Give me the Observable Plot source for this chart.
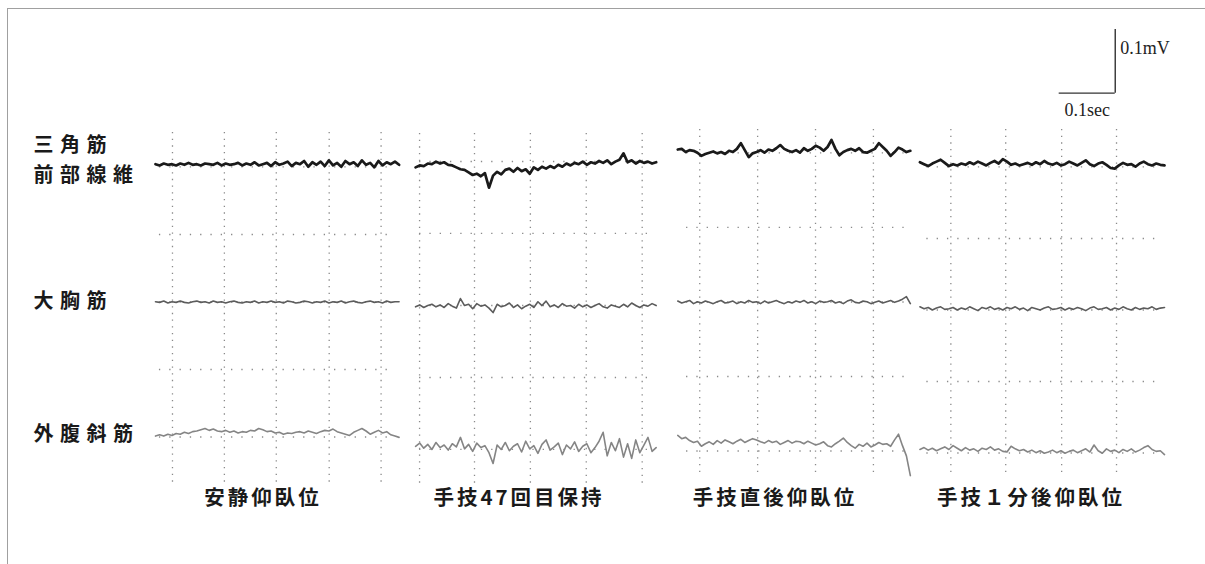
<!DOCTYPE html>
<html><head><meta charset="utf-8">
<script src="https://cdn.jsdelivr.net/npm/d3@7"></script>
<script src="https://cdn.jsdelivr.net/npm/@observablehq/plot@0.6"></script>
<style>
html,body{margin:0;padding:0;background:#fff;}
#wrap{position:relative;width:1205px;height:564px;overflow:hidden;background:#fff;}
#border{position:absolute;left:7px;top:8px;width:1198px;height:556px;border-top:1.5px solid #a0a0a0;border-left:1.5px solid #a0a0a0;pointer-events:none;}
g[aria-label="y-axis tick label"] text{letter-spacing:6.5px;}
g[aria-label="fx-axis tick label"] text{letter-spacing:3px;}
</style></head>
<body><div id="wrap"><div id="chart"></div><div id="border"></div></div>
<script>
// Conditions (panels) and muscles (channels)
const conditions = ["安静仰臥位", "手技47回目保持", "手技直後仰臥位", "手技１分後仰臥位"];
const muscles = ["三角筋\n前部線維", "大胸筋", "外腹斜筋"];
const muscleOffset = [0, -0.21, -0.42];          // mV, channel baselines

// Recording time span of each panel (s)
const traceStart = [0, 0.0073, 0.0183, -0.0064];
const traceEnd = [0.4346, 0.4365, 0.4333, 0.43];

// EMG traces in µV relative to the channel baseline
const deltoid_rest = [3,1,4,2,3,1,4,2,5,2,3,1,4,3,2,5,1,4,2,3,5,1,4,2,6,1,3,5,0,6,2,4,7,0,5,3,8,-1,6,2,7,0,9,1,5,-1,8,3,6,0,9,2,5,-2,8,1,6,3,7,2];
const deltoid_47 = [-2,1,0,4,3,7,4,6,2,1,-2,-5,-6,-10,-14,-12,-16,-11,-34,-15,-9,-13,-6,-4,-9,-3,-8,-5,-12,-2,-6,-1,-4,0,-3,2,-1,4,1,5,3,7,2,6,4,8,5,9,3,7,10,20,6,9,4,8,5,7,4,6];
const deltoid_post = [26,27,22,25,24,21,16,19,21,23,20,22,19,24,22,27,36,25,14,20,22,25,21,26,24,28,33,27,24,22,25,21,28,24,27,32,29,24,30,41,27,17,22,25,27,24,28,22,21,24,27,36,30,24,16,22,29,26,22,24];
const deltoid_1min = [6,3,0,4,7,10,5,0,3,1,4,2,6,3,7,4,1,5,8,4,11,7,2,4,1,3,5,2,6,3,8,4,2,5,1,3,7,4,1,5,9,3,0,4,6,2,-3,-4,1,5,2,3,-1,4,7,3,1,4,2,1];

const pector_rest = [-3,-4,-2,-5,-3,-4,-2,-4,-5,-3,-2,-4,-3,-5,-2,-4,-3,-5,-3,-2,-4,-5,-3,-4,-2,-5,-3,-4,-2,-4,-3,-5,-2,-3,-5,-4,-2,-3,-5,-3,-4,-2,-5,-3,-4,-2,-5,-3,-2,-4,-5,-3,-2,-4,-3,-5,-2,-4,-3,-3];
const pector_47 = [-11,-8,-12,-9,-7,-11,-8,-12,-6,-10,-13,2,-9,-7,-14,-6,-10,-8,-13,-20,-7,-11,-9,-5,-12,-8,-14,-10,-7,-12,-3,-9,-2,-11,-8,-12,-6,-10,-9,-13,-7,-11,-8,-12,-9,-6,-11,-13,-8,-10,-12,-7,-11,-5,-9,-12,-8,-10,-6,-9];
const pector_post = [-2,-5,-3,-1,-6,-3,-5,-2,-4,-6,-3,-1,-5,-4,-2,-6,-3,-5,-1,-4,-3,-6,-2,-5,-3,-1,-4,-6,-3,-5,-2,-4,-1,-5,-3,-6,-2,-4,-3,-1,-5,-3,-6,-2,0,-4,-5,-2,-3,-6,-4,-2,-5,-3,-1,-4,-2,1,5,-6];
const pector_1min = [-11,-14,-12,-16,-13,-11,-15,-14,-12,-16,-13,-15,-11,-14,-17,-12,-14,-11,-15,-13,-16,-12,-14,-11,-15,-13,-17,-12,-14,-16,-13,-11,-15,-14,-12,-16,-13,-15,-12,-14,-17,-13,-11,-15,-14,-12,-16,-13,-15,-11,-14,-16,-12,-15,-13,-14,-11,-15,-13,-12];

const oblique_rest = [-4,-2,-4,-1,-3,0,-1,2,0,3,4,6,8,5,7,4,3,5,2,4,1,3,2,5,4,8,6,3,4,1,2,-1,1,0,2,3,1,4,2,0,3,5,4,7,3,1,-1,-3,2,5,8,4,-1,2,5,1,3,-2,-4,-6];
const oblique_47 = [-20,-15,-23,-17,-25,-14,-22,-18,-26,-16,-21,-6,-24,-17,-28,-15,-22,-19,-30,-47,-18,-25,-14,-27,-20,-16,-29,-12,-24,-19,-31,-17,-10,-26,-21,-15,-33,-18,-24,-13,-28,-20,-16,-30,-22,-12,2,-35,-14,-27,-8,-37,-16,-39,-10,-30,-18,-6,-28,-22];
const oblique_post = [-3,-8,-6,-11,-14,-12,-20,-16,-13,-17,-11,-15,-10,-13,-16,-12,-9,-14,-11,-8,-10,-13,-15,-11,-14,-12,-17,-14,-11,-15,-12,-13,-16,-12,-15,-18,-16,-13,-19,-21,-16,-12,-7,-14,-19,-23,-17,-20,-15,-21,-18,-14,-17,-16,-20,-10,-1,-19,-35,-66];
const oblique_1min = [-25,-22,-26,-23,-27,-24,-21,-25,-19,-23,-27,-22,-26,-24,-28,-23,-25,-21,-26,-24,-28,-29,-20,-24,-27,-25,-29,-26,-30,-27,-31,-29,-26,-30,-27,-31,-28,-26,-30,-27,-24,-29,-18,-27,-31,-24,-28,-26,-30,-25,-28,-24,-29,-26,-22,-19,-25,-28,-27,-33];

// Recorder grid of each panel: vertical grid times (s), horizontal grid levels (mV)
const vGridTimes = [[0.0303,0.1229,0.2155,0.3099,0.4025],[0.0144,0.1124,0.2121,0.3118,0.4116],[0.0575,0.1608,0.2641,0.3674],[0.0488,0.1467,0.2465,0.3444]];
const vGridSpan = [[0.0528,-0.4969],[0.0512,-0.4984],[0.0575,-0.489],[0.0575,-0.4827]];
const hGridLevels = [[-0.0014,-0.1074,-0.2134,-0.3194,-0.4254],[0.0072,-0.1058,-0.2189,-0.332,-0.445],[0.0206,-0.0964,-0.2134,-0.3304,-0.4474],[-0.0014,-0.1137,-0.226,-0.3383,-0.4505]];
const hGridSpan = [[0.007,0.422],[0.0144,0.432],[0.034,0.428],[0.006,0.421]];

// Calibration bar: 0.1 sec × 0.1 mV
const calib = {cond: conditions[3], t: 0.3421, mV: 0.1145, dt: 0.1, dv: 0.1};

const traceSets = [
  [deltoid_rest, deltoid_47, deltoid_post, deltoid_1min],
  [pector_rest, pector_47, pector_post, pector_1min],
  [oblique_rest, oblique_47, oblique_post, oblique_1min]
];
const traceColor = ["#1a1a1a", "#5c5c5c", "#858585"];
const traceWidth = [2.7, 1.6, 1.6];

const rows = [];
traceSets.forEach((set, m) => set.forEach((vals, p) => {
  const t0 = traceStart[p], t1 = traceEnd[p], n = vals.length;
  vals.forEach((v, i) => rows.push({cond: conditions[p], muscle: muscles[m], t: t0 + (t1 - t0) * i / (n - 1), mV: muscleOffset[m] + v / 1000}));
}));

const vRows = [];
vGridTimes.forEach((ts, p) => ts.forEach(t => vRows.push({cond: conditions[p], t, top: vGridSpan[p][0], bottom: vGridSpan[p][1]})));
const hRows = [];
hGridLevels.forEach((ls, p) => ls.forEach(v => hRows.push({cond: conditions[p], v, x1: hGridSpan[p][0], x2: hGridSpan[p][1]})));

const calibRows = [calib];
const labelStyle = {tickSize: 0, tickFormat: d => muscles[muscleOffset.indexOf(d)], textAnchor: "start", dx: -113, fontSize: 20, fontWeight: "bold", lineHeight: 1.55, label: null};

const chart = Plot.plot({
  width: 1205, height: 564,
  marginLeft: 153, marginRight: 40, marginTop: 0, marginBottom: 80,
  style: {fontFamily: "'Noto Sans CJK JP', sans-serif", background: "transparent", color: "#1a1a1a"},
  fx: {domain: conditions, paddingInner: 0.06, paddingOuter: 0, label: null},
  x: {domain: [0, 0.43], axis: null},
  y: {domain: [-0.5, 0.26], label: null},
  marks: [
    Plot.ruleY(hRows, {fx: "cond", y: "v", x1: "x1", x2: "x2", stroke: "#8a8a8a", strokeWidth: 1.3, strokeDasharray: "1.3,9"}),
    Plot.ruleX(vRows, {fx: "cond", x: "t", y1: "top", y2: "bottom", stroke: "#8a8a8a", strokeWidth: 1.3, strokeDasharray: "1.3,5.4"}),
    ...muscles.map((m, k) => Plot.line(rows.filter(r => r.muscle === m), {fx: "cond", x: "t", y: "mV", z: "cond", stroke: traceColor[k], strokeWidth: traceWidth[k], strokeLinejoin: "round"})),
    Plot.ruleX(calibRows, {fx: "cond", x: "t", y1: "mV", y2: d => d.mV + d.dv, stroke: "#333", strokeWidth: 1.4}),
    Plot.ruleY(calibRows, {fx: "cond", y: "mV", x1: d => d.t - d.dt, x2: "t", stroke: "#333", strokeWidth: 1.4}),
    Plot.text(calibRows, {fx: "cond", x: "t", y: d => d.mV + d.dv * 0.7, text: () => "0.1mV", textAnchor: "start", dx: 5, fontFamily: "'Liberation Serif', serif", fontSize: 18, fill: "#222"}),
    Plot.text(calibRows, {fx: "cond", x: d => d.t - d.dt / 2, y: "mV", text: () => "0.1sec", dy: 17, fontFamily: "'Liberation Serif', serif", fontSize: 18, fill: "#222"}),
    Plot.axisY(muscleOffset.slice(0, 1), {...labelStyle, dy: -9}),
    Plot.axisY(muscleOffset.slice(1), {...labelStyle, dy: -2}),
    Plot.axisFx({anchor: "bottom", tickSize: 0, tickPadding: 6, fontSize: 20.5, fontWeight: "bold", dx: -13, label: null})
  ]
});
document.getElementById("chart").append(chart);
</script></body></html>
